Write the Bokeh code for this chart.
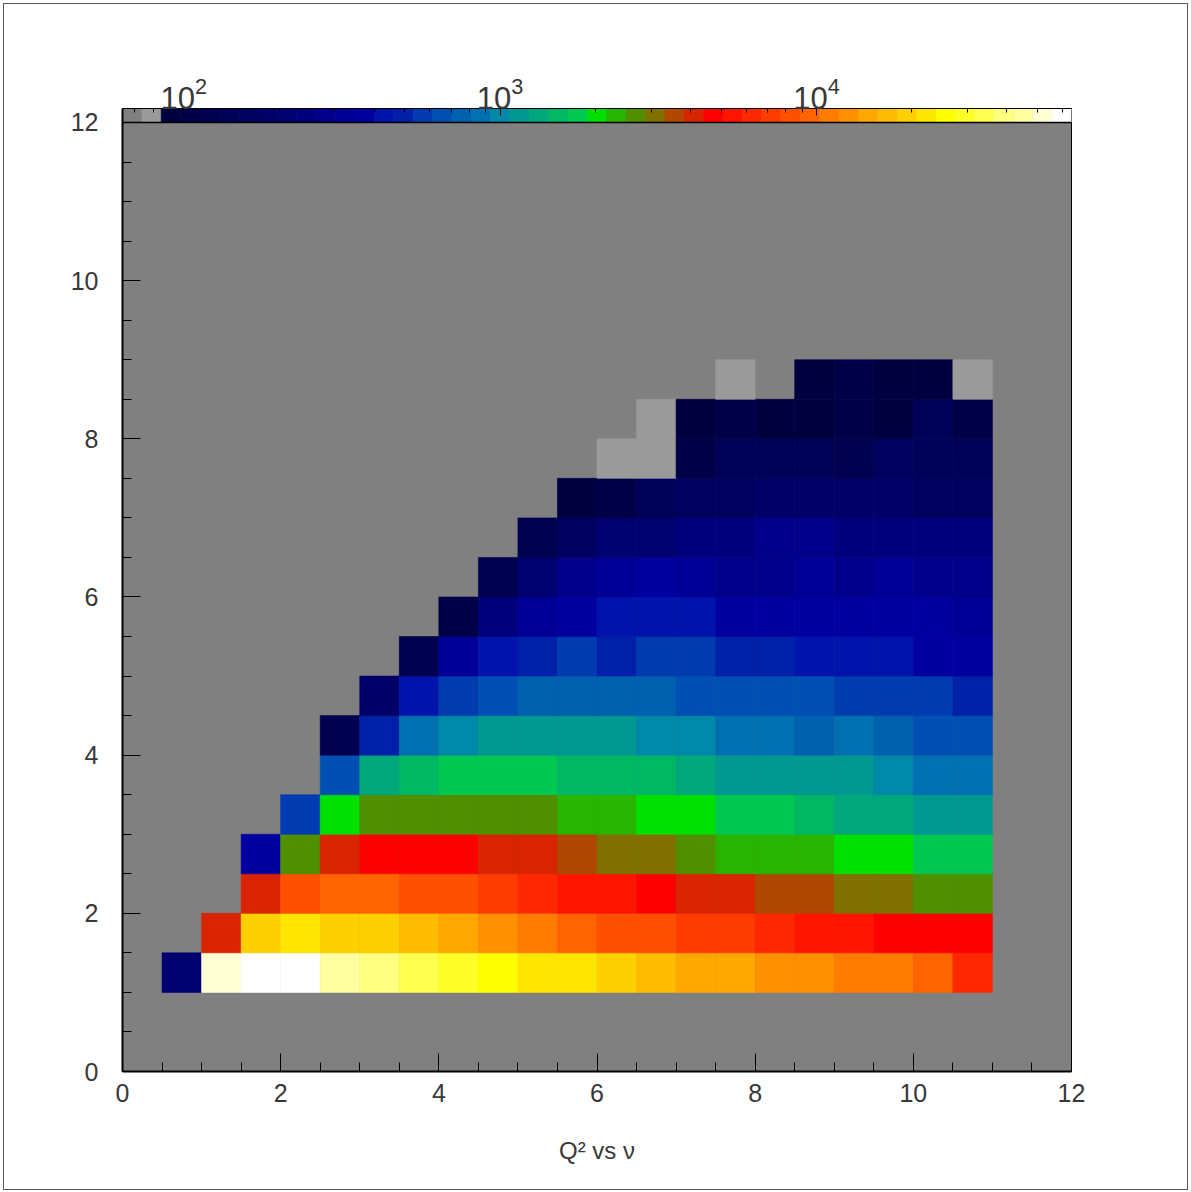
from bokeh.plotting import figure
from bokeh.models import (ColumnDataSource, LogColorMapper, Range1d, LogAxis,
                          LogScale, FixedTicker, Span, LogTickFormatter, InlineStyleSheet)
from bokeh.embed import file_html
from bokeh.resources import INLINE

# ---- histogram binning: nu on x, Q^2 on y, 0.5 wide bins -------------------
x_edges = [0.0, 0.5, 1.0, 1.5, 2.0, 2.5, 3.0, 3.5, 4.0, 4.5, 5.0, 5.5, 6.0,
           6.5, 7.0, 7.5, 8.0, 8.5, 9.0, 9.5, 10.0, 10.5, 11.0, 11.5, 12.0]
y_edges = list(x_edges)

# bin contents, one list per Q^2 row (bottom row first), one entry per nu bin
row_00 = [0] * 24
row_01 = [0] * 24
row_02 = [0, 212, 52400, 64000, 61200, 45300, 39000, 34100, 29700, 25400, 22600, 21900,
          19300, 16700, 14800, 14300, 12900, 12400, 11100, 10800, 9600, 6200, 0, 0]
row_03 = [0, 0, 4100, 19600, 22100, 19900, 19200, 16400, 14400, 12600, 11000, 9500,
          8400, 8200, 7300, 7100, 6300, 5500, 5300, 4800, 4700, 4600, 0, 0]
row_04 = [0, 0, 0, 4000, 8500, 9700, 9400, 8600, 8100, 7300, 6200, 5500,
          5400, 4700, 4200, 4000, 3600, 3500, 3100, 3000, 2700, 2600, 0, 0]
row_05 = [0, 0, 0, 370, 2650, 4050, 4800, 4900, 4600, 4150, 3950, 3450,
          3150, 3000, 2700, 2300, 2250, 2200, 2050, 1950, 1750, 1700, 0, 0]
row_06 = [0, 0, 0, 0, 560, 2000, 2800, 2750, 2700, 2620, 2560, 2350,
          2250, 2080, 1960, 1800, 1720, 1520, 1350, 1300, 1170, 1120, 0, 0]
row_07 = [0, 0, 0, 0, 0, 650, 1330, 1500, 1780, 1740, 1700, 1560,
          1510, 1450, 1290, 1190, 1150, 1120, 1090, 990, 880, 850, 0, 0]
row_08 = [0, 0, 0, 0, 0, 120, 480, 860, 1010, 1160, 1180, 1140,
          1110, 1020, 980, 890, 860, 760, 820, 740, 680, 640, 0, 0]
row_09 = [0, 0, 0, 0, 0, 0, 185, 430, 570, 660, 760, 750,
          745, 720, 690, 670, 650, 630, 580, 560, 545, 500, 0, 0]
row_10 = [0, 0, 0, 0, 0, 0, 0, 118, 320, 420, 490, 550,
          500, 560, 545, 485, 475, 440, 430, 415, 380, 365, 0, 0]
row_11 = [0, 0, 0, 0, 0, 0, 0, 0, 102, 245, 325, 360,
          410, 425, 405, 385, 375, 370, 380, 372, 360, 335, 0, 0]
row_12 = [0, 0, 0, 0, 0, 0, 0, 0, 0, 115, 205, 275,
          315, 355, 310, 285, 280, 305, 270, 310, 280, 275, 0, 0]
row_13 = [0, 0, 0, 0, 0, 0, 0, 0, 0, 0, 122, 158,
          205, 215, 235, 240, 265, 270, 245, 238, 242, 236, 0, 0]
row_14 = [0, 0, 0, 0, 0, 0, 0, 0, 0, 0, 0, 90,
          104, 138, 158, 162, 180, 185, 178, 176, 165, 160, 0, 0]
row_15 = [0, 0, 0, 0, 0, 0, 0, 0, 0, 0, 0, 0,
          78, 80, 102, 135, 140, 142, 121, 152, 138, 136, 0, 0]
row_16 = [0, 0, 0, 0, 0, 0, 0, 0, 0, 0, 0, 0,
          0, 77, 88, 101, 92, 90, 103, 87, 134, 100, 0, 0]
row_17 = [0, 0, 0, 0, 0, 0, 0, 0, 0, 0, 0, 0,
          0, 0, 0, 76, 0, 89, 99, 86, 91, 75, 0, 0]
rows = [row_00, row_01, row_02, row_03, row_04, row_05, row_06, row_07, row_08,
        row_09, row_10, row_11, row_12, row_13, row_14, row_15, row_16, row_17]

# colour scale (log z)
z_min, z_max = 64.0, 64000.0
palette = [
    "#808080", "#9a9a9a",
    "#000040", "#000048", "#000050", "#000058", "#000060", "#000068", "#000070",
    "#00007c", "#00008a", "#000096", "#0000a0", "#0014ac", "#0020a8", "#003cb0",
    "#0050b4", "#0060b0", "#0070b0", "#0088a8", "#009890", "#00a87c", "#00b864",
    "#00c850", "#00e000", "#28b400", "#509000", "#807000", "#b04800", "#d82400",
    "#ff0000", "#ff1400", "#ff2800", "#ff3c00", "#ff5000", "#ff6400", "#ff7c00",
    "#ff9000", "#ffa800", "#ffbc00", "#ffd000", "#ffe600", "#ffff00", "#ffff28",
    "#ffff50", "#ffff80", "#ffffa0", "#ffffd4", "#ffffff",
]
cbar_ticks = [100, 1000, 10000]
cbar_minor = [70, 80, 90, 200, 300, 400, 500, 600, 700, 800, 900,
              2000, 3000, 4000, 5000, 6000, 7000, 8000, 9000,
              20000, 30000, 40000, 50000, 60000]
axis_ticks = [0, 2, 4, 6, 8, 10, 12]
axis_minor = [v * 0.5 for v in range(25)]

FONT = "Liberation Sans"
TXT = "#383838"

# ---- cell source -----------------------------------------------------------
left, right, bottom, top, cnt = [], [], [], [], []
for k, row in enumerate(rows):
    for j, c in enumerate(row):
        if c > 0:
            left.append(x_edges[j]); right.append(x_edges[j + 1])
            bottom.append(y_edges[k]); top.append(y_edges[k + 1])
            cnt.append(c)
cells = ColumnDataSource(dict(left=left, right=right, bottom=bottom, top=top, count=cnt))

mapper = LogColorMapper(palette=palette, low=z_min, high=z_max)

# the palette strip sits on top of the y range, inside the frame
strip = 0.177
y_top = 12.0 + strip

p = figure(width=1191, height=1192, output_backend="svg", toolbar_location=None,
           x_range=Range1d(0, 12), y_range=Range1d(0, y_top),
           min_border_left=122, min_border_right=120,
           min_border_top=108, min_border_bottom=121,
           background_fill_color="#808080", border_fill_color="white")
p.grid.visible = False
p.outline_line_color = "black"
p.outline_line_width = 1

# thin frame drawn round the whole canvas
p.stylesheets = [InlineStyleSheet(css=(
    ":host::after { content: ''; position: absolute; left: 3px; top: 3px; "
    "right: 3px; bottom: 2px; border: 1px solid #5a5a5a; "
    "pointer-events: none; z-index: 20; }"))]

p.quad(left="left", right="right", bottom="bottom", top="top", source=cells,
       fill_color={"field": "count", "transform": mapper},
       line_color={"field": "count", "transform": mapper}, line_width=0.6)

# palette strip drawn on a log axis of bin content
p.extra_x_ranges = {"cbar": Range1d(z_min, z_max)}
p.extra_x_scales = {"cbar": LogScale()}
n = len(palette)
ratio = z_max / z_min
strip_src = ColumnDataSource(dict(
    left=[z_min * ratio ** (i / n) for i in range(n)],
    right=[z_min * ratio ** ((i + 1) / n) for i in range(n)],
    color=palette))
p.quad(left="left", right="right", bottom=12.0, top=y_top, source=strip_src,
       x_range_name="cbar", fill_color="color", line_color="color", line_width=0.6)
p.add_layout(Span(location=12.0, dimension="width", line_color="black", line_width=1.5))

cax = LogAxis(x_range_name="cbar",
              ticker=FixedTicker(ticks=cbar_ticks, minor_ticks=cbar_minor),
              formatter=LogTickFormatter())
cax.major_tick_in = 7
cax.major_tick_out = 0
cax.minor_tick_in = 4
cax.minor_tick_out = 0
cax.axis_line_color = "black"
cax.major_tick_line_color = "black"
cax.minor_tick_line_color = "black"
cax.major_label_standoff = 0
cax.major_label_text_font = FONT
cax.major_label_text_font_size = "31px"
cax.major_label_text_color = TXT
p.add_layout(cax, "above")

xax = p.below[0]
yax = p.left[0]
for ax in (xax, yax):
    ax.ticker = FixedTicker(ticks=axis_ticks, minor_ticks=axis_minor)
    ax.major_tick_in = 18
    ax.major_tick_out = 0
    ax.minor_tick_in = 9
    ax.minor_tick_out = 0
    ax.axis_line_color = "black"
    ax.axis_line_width = 2
    ax.major_tick_line_color = "black"
    ax.minor_tick_line_color = "black"
    ax.major_label_text_font = FONT
    ax.major_label_text_font_size = "25px"
    ax.major_label_text_color = TXT

yax.major_label_standoff = 24
xax.major_label_standoff = 12
xax.axis_label = "Q² vs ν"
xax.axis_label_text_font = FONT
xax.axis_label_text_font_size = "24px"
xax.axis_label_text_font_style = "normal"
xax.axis_label_text_color = TXT
xax.axis_label_standoff = 32

open("out.html", "w").write(file_html(p, INLINE))
